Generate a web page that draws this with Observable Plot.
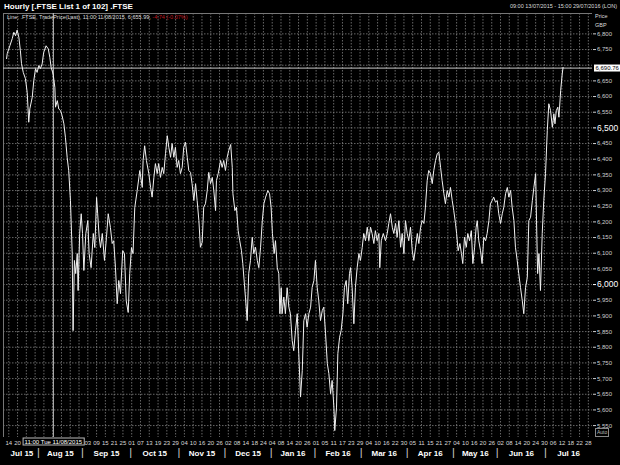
<!DOCTYPE html>
<html>
<head>
<meta charset="utf-8">
<script src="https://cdn.jsdelivr.net/npm/d3@7"></script>
<script src="https://cdn.jsdelivr.net/npm/@observablehq/plot@0.6"></script>
<style>
  html, body { margin: 0; padding: 0; background: #000; }
  #wrap { position: relative; width: 620px; height: 465px; overflow: hidden; background: #000; font-family: "Liberation Sans", Arial, sans-serif; }
  #wrap svg { position: absolute; left: 0; top: 0; }
  .ov { position: absolute; white-space: nowrap; color: #e6e6e6; line-height: 1; }
  .title { left: 4px; top: 3px; font-size: 8px; font-weight: bold; color: #fff; }
  .range { right: 3px; top: 4px; font-size: 5.5px; color: #ddd; }
  .unit { left: 595px; font-size: 5.5px; color: #ddd; }
  .sub { left: 7px; top: 15px; font-size: 5.5px; color: #ddd; }
  .sub .neg { color: #c0141c; }
  .auto { left: 595px; top: 428px; font-size: 5px; color: #bbb; border: 1px solid #888; padding: 1px 1px; }
</style>
</head>
<body>
<div id="wrap">
  <div class="ov title">Hourly [.FTSE List 1 of 102] .FTSE</div>
  <div class="ov range">09:00 13/07/2015 - 15:00 29/07/2016 (LON)</div>
  <div class="ov unit" style="top:14px">Price</div>
  <div class="ov unit" style="top:23px">GBP</div>
  <div class="ov sub">Line; .FTSE, TradePrice(Last), 11:00 11/08/2015, 6,655.99, <span class="neg">-4.74 (-0.07%)</span></div>
  <div class="ov auto">Auto</div>
</div>
<script>
// ---- data: hourly FTSE 100 close ----
// session = trading sessions elapsed since 13 Jul 2015 (fractional = intraday)
const session = [0.0,0.3,1.5,2.6,3.3,4.1,4.8,5.6,6.3,6.8,7.6,8.6,9.4,10.1,10.6,11.7,12.4,13.2,13.9,14.7,15.4,16.2,16.9,18.0,19.0,19.7,20.3,21.2,22.0,22.3,23.1,23.8,24.6,25.3,26.1,26.8,27.6,28.3,29.1,29.9,30.3,30.9,31.5,32.2,32.6,33.3,34.0,34.6,35.2,36.1,37.0,37.6,38.5,39.5,40.2,41.0,41.5,42.2,42.8,43.6,44.6,45.5,46.3,47.3,48.1,48.8,49.6,50.4,51.1,51.9,52.9,53.7,54.5,55.4,56.1,56.9,57.6,58.4,59.5,60.7,61.8,62.2,62.9,63.7,64.8,65.6,66.3,67.1,67.8,68.6,69.3,70.1,70.9,71.6,72.4,73.2,73.9,74.7,75.4,76.2,76.9,77.7,78.4,79.2,80.0,80.7,81.5,82.3,83.0,83.8,84.5,85.3,86.1,86.8,87.6,88.3,89.1,89.8,90.6,91.4,92.1,92.9,93.7,94.4,95.2,95.6,96.4,97.5,98.2,98.9,99.7,100.5,101.2,102.1,102.8,103.1,104.0,104.7,105.5,106.2,107.0,107.6,108.8,109.6,110.3,111.1,111.9,112.6,113.4,114.2,114.9,115.7,116.5,117.2,118.0,119.0,119.8,120.5,121.1,121.9,122.5,123.3,124.0,124.5,125.1,125.5,126.3,127.0,127.8,128.6,129.3,130.1,130.8,131.6,132.4,133.1,133.9,134.7,135.4,136.2,136.9,137.7,138.5,139.2,140.0,140.7,141.5,142.2,143.0,143.8,144.5,145.3,146.1,146.8,147.6,148.3,149.1,149.5,150.3,150.9,151.7,152.4,153.2,153.9,154.7,155.4,156.2,156.7,157.4,158.2,158.9,159.7,160.5,161.2,162.0,162.7,163.5,164.3,165.0,165.8,166.5,167.3,168.0,168.8,169.6,170.0,170.7,171.6,172.6,173.4,174.1,174.9,175.7,176.4,177.2,177.9,178.7,179.5,180.2,181.0,181.7,182.5,183.2,184.0,184.8,185.5,186.3,187.1,187.8,188.6,189.3,190.1,190.8,191.6,192.3,193.1,193.9,194.6,195.4,196.2,196.9,197.7,198.4,199.2,199.9,200.7,201.5,202.2,203.0,203.7,204.5,205.0,205.7,206.5,207.2,207.8,208.6,209.4,210.1,210.9,211.7,212.4,213.2,213.9,214.4,215.1,215.9,216.6,217.4,218.2,218.9,219.7,220.4,221.2,221.9,222.7,223.5,224.2,225.0,225.8,226.5,227.3,228.1,228.8,229.6,230.3,231.1,231.8,232.6,233.3,234.1,234.9,235.6,236.4,237.2,237.9,238.7,239.5,240.2,241.0,241.4,241.9,242.5,243.2,244.0,244.7,245.5,246.3,247.0,247.8,248.6,249.3,249.8,250.4,251.1,251.6,252.4,253.1,253.5];
const price = [6721,6737,6762,6785,6805,6794,6812,6789,6746,6705,6677,6657,6613,6518,6561,6598,6651,6689,6677,6699,6689,6704,6741,6762,6752,6725,6693,6672,6629,6566,6587,6560,6555,6539,6513,6470,6406,6364,6268,6099,5853,6077,6035,6099,5981,6163,6226,6163,6045,6163,6204,6099,6054,6163,6118,6278,6226,6150,6118,6163,6077,6150,6226,6182,6131,6140,6054,5939,6013,5971,6108,6099,5949,5911,6035,6118,6099,6246,6300,6364,6310,6396,6443,6396,6354,6310,6279,6342,6386,6354,6386,6342,6374,6354,6418,6475,6438,6406,6450,6406,6438,6374,6396,6354,6374,6438,6454,6406,6364,6358,6322,6268,6322,6268,6204,6119,6135,6247,6258,6300,6358,6322,6342,6300,6236,6332,6354,6396,6374,6396,6364,6406,6428,6447,6374,6290,6236,6247,6172,6140,6108,6067,5960,5885,6035,6077,6151,6099,6119,6077,6054,6119,6204,6258,6279,6300,6290,6247,6163,6099,6140,6054,6035,5907,5990,5907,5960,5907,5990,5927,5907,5821,5789,5853,5907,5780,5641,5726,5885,5907,5864,5907,5928,5991,6013,6077,5991,5949,5885,5917,5928,5843,5748,5716,5652,5694,5609,5534,5609,5780,5832,5853,5907,5991,6013,5939,6035,6054,5991,5875,5991,6054,6099,6077,6118,6163,6140,6183,6140,6183,6163,6131,6172,6140,6163,6054,6140,6163,6140,6163,6195,6226,6183,6163,6195,6151,6204,6119,6163,6099,6204,6163,6140,6183,6108,6077,6119,6163,6131,6183,6204,6195,6247,6332,6364,6354,6322,6364,6396,6418,6422,6374,6332,6290,6258,6300,6279,6310,6268,6236,6195,6163,6108,6131,6099,6067,6151,6119,6163,6140,6172,6067,6119,6183,6204,6140,6108,6067,6151,6140,6163,6204,6258,6268,6279,6263,6268,6226,6195,6226,6247,6290,6310,6279,6300,6247,6204,6119,6077,6035,5991,5949,5907,5991,6023,6204,6215,6268,6310,6354,6204,6035,6099,5981,6163,6268,6354,6491,6577,6555,6502,6545,6513,6555,6566,6534,6619,6672,6693];

// axis range and calendar
const startDate = "2015-07-13";
const endDate = "2016-07-29";
const holidays = ["2015-08-31","2015-12-25","2015-12-28","2016-01-01","2016-03-25","2016-03-28","2016-05-02","2016-05-30"];
const priceTicks = [5550,5600,5650,5700,5750,5800,5850,5900,5950,6000,6050,6100,6150,6200,6250,6300,6350,6400,6450,6500,6550,6600,6650,6700,6750,6800];
const majorTicks = [6000, 6500];
const priceDomain = [5512, 6865];
const cursorSession = 21.3;      // 11:00 Tue 11/08/2015
const cursorPrice = 6690.76;
const cursorLabel = "11:00 Tue 11/08/2015";
const monthNames = ["Jan","Feb","Mar","Apr","May","Jun","Jul","Aug","Sep","Oct","Nov","Dec"];

// trading calendar (weekdays without UK bank holidays)
const fmt = d3.utcFormat("%Y-%m-%d");
const days = d3.utcDays(new Date(startDate), d3.utcDay.offset(new Date(endDate), 1))
  .filter(d => d.getUTCDay() !== 0 && d.getUTCDay() !== 6 && !holidays.includes(fmt(d)));
const nSessions = days.length;

const line = session.map((s, i) => ({s, p: price[i]}));

// month boundaries and labels
const bounds = [];
days.forEach((d, i) => { if (i > 0 && d.getUTCMonth() !== days[i - 1].getUTCMonth()) bounds.push(i - 0.5); });
const edges = [-0.5, ...bounds, nSessions - 0.5];
const months = edges.slice(0, -1).map((e, k) => {
  const d = days[Math.ceil(e)];
  return {mid: (e + edges[k + 1]) / 2, label: monthNames[d.getUTCMonth()] + " " + String(d.getUTCFullYear()).slice(2)};
});

// day ticks every 4 sessions; labels hidden under the cursor boxes
const dayTicks = d3.range(1, nSessions - 1, 4);
const dayLabelTicks = dayTicks.filter(i => Math.abs(i - cursorSession) > 13.5);
const minorLabelTicks = priceTicks.filter(v => !majorTicks.includes(v) && Math.abs(v - cursorPrice) > 20);

const xDomain = [-1.4, nSessions - 0.1];

const chart = Plot.plot({
  width: 620, height: 465,
  marginLeft: 3, marginRight: 28, marginTop: 13, marginBottom: 28,
  style: {background: "#000", color: "#ddd", fontFamily: "Liberation Sans, Arial, sans-serif"},
  x: {domain: xDomain, axis: null, label: null},
  y: {domain: priceDomain, axis: null, label: null},
  marks: [
    Plot.gridY(priceTicks, {stroke: "#8a8a8a", strokeOpacity: 0.75, strokeDasharray: "1.5,1.5"}),
    Plot.gridX(dayTicks, {stroke: "#8a8a8a", strokeOpacity: 0.75, strokeDasharray: "1.5,1.5"}),
    Plot.ruleX([xDomain[0]], {stroke: "#777"}),
    Plot.ruleY([priceDomain[1]], {stroke: "#777"}),
    Plot.ruleX([cursorSession], {stroke: "#c8c8c8", strokeWidth: 1}),
    Plot.ruleY([cursorPrice], {stroke: "#c8c8c8", strokeWidth: 1}),
    Plot.line(line, {x: "s", y: "p", stroke: "#f2f2f2", strokeWidth: 1}),
    Plot.axisY(minorLabelTicks, {anchor: "right", label: null, tickSize: 3, tickPadding: 1.5, fontSize: 6, color: "#cfcfcf", tickFormat: d3.format(",")}),
    Plot.axisY(majorTicks, {anchor: "right", label: null, tickSize: 3, tickPadding: 1.5, fontSize: 8.5, color: "#ffffff", tickFormat: d3.format(",")}),
    Plot.axisX(dayLabelTicks, {anchor: "bottom", label: null, tickSize: 0, tickPadding: 3, fontSize: 6, color: "#d8d8d8", tickFormat: i => d3.utcFormat("%d")(days[i])}),
    Plot.text(months, {x: "mid", text: "label", frameAnchor: "bottom", dy: 18, fill: "#fff", fontSize: 8, fontWeight: "bold"}),
    Plot.text(bounds, {x: d => d, text: () => "|", frameAnchor: "bottom", dy: 18, fill: "#ccc", fontSize: 11}),
    Plot.text([cursorSession], {x: d => d, text: () => cursorLabel, frameAnchor: "bottom", dy: 6, fill: "#fff", fontSize: 6, className: "datebox"}),
    Plot.text([cursorPrice], {y: d => d, text: d => d3.format(",.2f")(d), frameAnchor: "right", dx: 3, textAnchor: "start", fill: "#000", fontSize: 6, className: "pricebox"})
  ]
});

document.getElementById("wrap").prepend(chart);

// draw boxes behind cursor labels
function boxBehind(cls, fill, stroke) {
  chart.querySelectorAll("." + cls + " text").forEach(t => {
    const b = t.getBBox();
    const r = document.createElementNS("http://www.w3.org/2000/svg", "rect");
    r.setAttribute("x", b.x - 1.5); r.setAttribute("y", b.y - 0.5);
    r.setAttribute("width", b.width + 3); r.setAttribute("height", b.height + 1);
    r.setAttribute("fill", fill);
    if (stroke) r.setAttribute("stroke", stroke);
    const tr = t.getAttribute("transform");
    if (tr) r.setAttribute("transform", tr);
    t.parentNode.insertBefore(r, t);
  });
}
boxBehind("datebox", "#000", "#bbb");
boxBehind("pricebox", "#fff", null);
</script>
</body>
</html>
